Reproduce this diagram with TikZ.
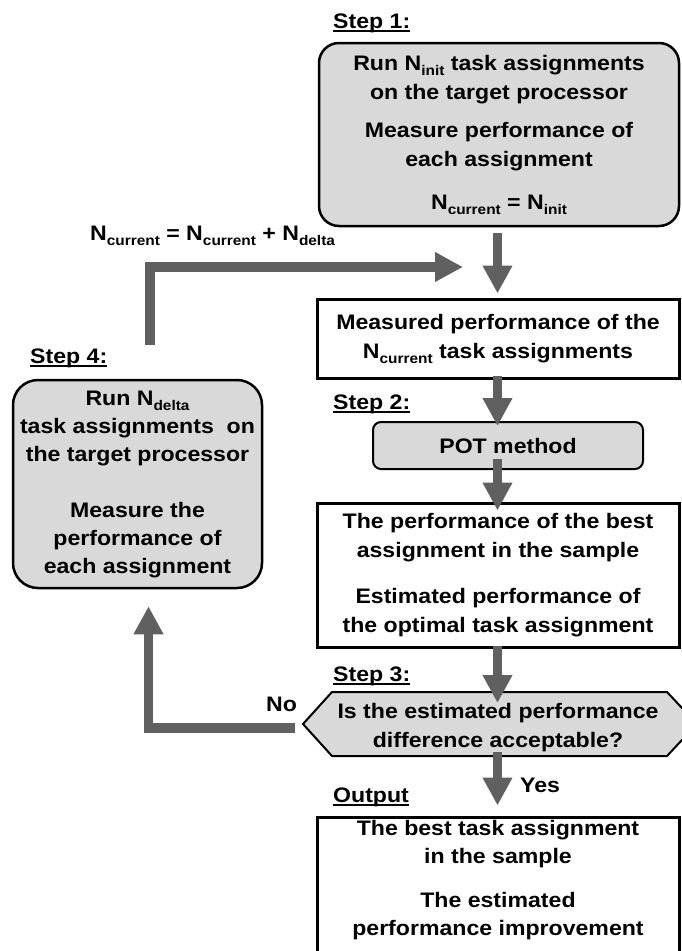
\documentclass[tikz,border=0pt]{standalone}
\usepackage{fontspec}
\setmainfont{Liberation Sans}[FakeStretch=1.1]
\usetikzlibrary{arrows.meta,backgrounds}

\definecolor{boxgray}{RGB}{217,217,217}
\definecolor{arrowgray}{RGB}{96,96,96}

% lowered index such as N_init
\newcommand\lowidx[1]{\raisebox{-5pt}{\fontsize{14}{14}\selectfont #1}}
% heavy underline for the step headings
\newcommand\ulbar[1]{\setbox0\hbox{#1}\rlap{\rule[-3.5pt]{\wd0}{2pt}}\box0}

\begin{document}
\begin{tikzpicture}[x=1pt,y=-1pt,
  txt/.style={font=\fontsize{21}{29}\selectfont\bfseries, align=center, inner sep=0pt},
  graybox/.style={txt, draw=black, line width=2.5pt, fill=boxgray},
  whitebox/.style={txt, draw=black, line width=3pt, fill=white},
  lbl/.style={font=\fontsize{21}{29}\selectfont\bfseries, anchor=base west, inner sep=0pt},
  flow/.style={draw=arrowgray, line width=9.5pt, line join=miter,
    -{Triangle[width=28pt,length=28pt]}}]
\useasboundingbox (0,0) rectangle (681,951);
\clip (0,0) rectangle (681,951);

% step 1
\node[lbl] (l1) at (333,28.5) {\ulbar{Step 1:}};
\node[graybox, rounded corners=20pt, minimum width=360, minimum height=183] (s1) at (499,134.5)
  {Run N\lowidx{init} task assignments\\ on the target processor\\[9pt]
   Measure performance of\\ each assignment\\[14pt]
   N\lowidx{current} = N\lowidx{init}};

% update of the sample size
\node[lbl] (upd) at (90,240) {N\lowidx{current} = N\lowidx{current} + N\lowidx{delta}};

% measured sample
\node[whitebox, minimum width=362, minimum height=79] (meas) at (498,338.5)
  {Measured performance of the\\ N\lowidx{current} task assignments};

% step 2
\node[lbl] (l2) at (333,409.5) {\ulbar{Step 2:}};
\node[graybox, line width=2pt, rounded corners=8pt, minimum width=270, minimum height=47] (pot) at (508,445.5)
  {POT method};

\node[whitebox, minimum width=362, minimum height=144] (est) at (498,575)
  {The performance of the best\\ assignment in the sample\\[17pt]
   Estimated performance of\\ the optimal task assignment};

% step 3: decision
\node[lbl] (l3) at (333,681) {\ulbar{Step 3:}};
\node[txt] (dec) at (498,728) {Is the estimated performance\\ difference acceptable?};
\coordinate (hxW) at (303,724);
\coordinate (hxNW) at (332,692);
\coordinate (hxNE) at (667,692);
\coordinate (hxE) at (697,724);
\coordinate (hxSE) at (667,756);
\coordinate (hxSW) at (332,756);
\begin{scope}[on background layer]
  \draw[line width=2pt, fill=boxgray, line join=miter]
    (hxW) -- (hxNW) -- (hxNE) -- (hxE) -- (hxSE) -- (hxSW) -- cycle;
\end{scope}
\node[lbl] (yes) at (520,792) {Yes};
\node[lbl] (no) at (266,711) {No};

% output
\node[lbl] (lo) at (333,802) {\ulbar{Output}};
\node[draw=black, line width=3pt, fill=white, minimum width=362, minimum height=138] (outb) at (498,886) {};
\node[txt, font=\fontsize{21}{28}\selectfont\bfseries] (outt) at (498,880)
  {The best task assignment\\ in the sample\\[16pt]
   The estimated\\ performance improvement};

% step 4
\node[lbl] (l4) at (30,363) {\ulbar{Step 4:}};
\node[graybox, rounded corners=25pt, minimum width=249, minimum height=208,
  font=\fontsize{21}{28}\selectfont\bfseries] (s4) at (137.5,484)
  {Run N\lowidx{delta}\\ task assignments~ on\\ the target processor\\[28pt]
   Measure the\\ performance of\\ each assignment};

% connectors
\coordinate (axis) at (497.5,0);
\coordinate (loopstart) at (150,345);
\coordinate (loopend) at (463,267);
\coordinate (nostart) at (295,728);

\draw[flow] ([yshift=-6pt]s1.south -| axis) -- ([yshift=4pt]meas.north -| axis);
\draw[flow] (loopstart) |- (loopend);
\draw[flow] ([yshift=4pt]meas.south -| axis) -- ([yshift=-5pt]pot.north -| axis);
\draw[flow] ([yshift=11pt]pot.south -| axis) -- ([yshift=-9pt]est.north -| axis);
\draw[flow] ([yshift=3pt]est.south -| axis) -- ([yshift=-11pt]hxNW -| axis);
\draw[flow] ([yshift=4pt]hxSW -| axis) -- ([yshift=10pt]outb.north -| axis);
\draw[flow] (nostart) -| ([xshift=11pt,yshift=-17pt]s4.south);
\end{tikzpicture}
\end{document}
